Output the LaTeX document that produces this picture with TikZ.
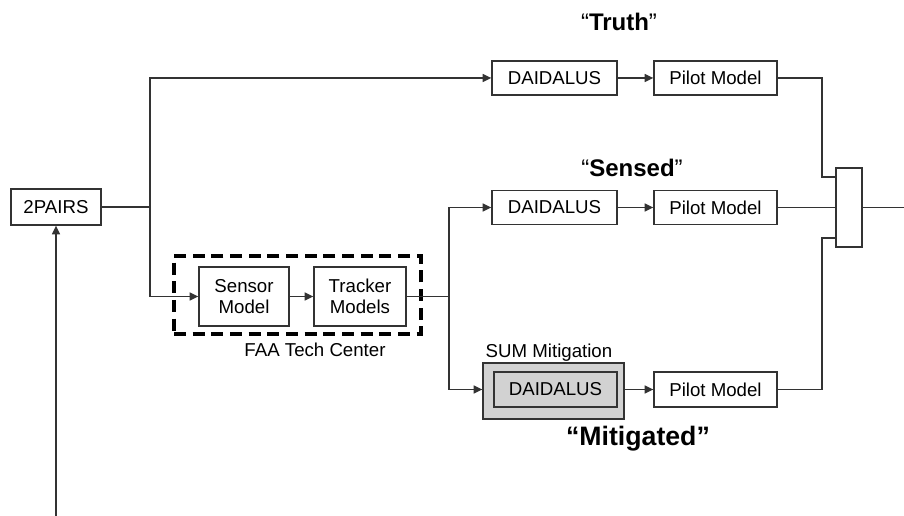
\documentclass[tikz,border=0pt]{standalone}
\usepackage{fontspec}
\setmainfont{Liberation Sans}
\usetikzlibrary{arrows.meta}
\definecolor{linec}{HTML}{333333}
\definecolor{boxgray}{HTML}{D2D2D2}
\begin{document}
\begin{tikzpicture}[x=0.75pt,y=-0.75pt,
  box/.style={draw=linec, line width=1pt, fill=white, inner sep=0pt, font=\fontsize{14}{16}\selectfont, align=center},
  conn/.style={draw=linec, line width=1pt},
  arr/.style={conn, -{Triangle[length=6.5pt,width=6pt]}},
  lbl/.style={font=\fontsize{14}{16}\selectfont, inner sep=0pt, anchor=base},
  big/.style={font=\fontsize{18}{20}\selectfont, inner sep=0pt, anchor=base}]
\useasboundingbox (0,0) rectangle (904,516);

% dashed enclosure
\node[draw=black, line width=2.4pt, dash pattern=on 9pt off 5pt, minimum width=185.25pt, minimum height=58.5pt, inner sep=0pt] (fac) at (297.5,295) {};
\node[lbl] (faalbl) at (315,357) {FAA Tech Center};

\node[box, minimum width=67.5pt, minimum height=27pt] (pairs) at (56,207) {2PAIRS};
\node[box, minimum width=67.5pt, minimum height=44.25pt] (sensor) at (244,296.5) {Sensor\\Model};
\node[box, minimum width=69pt, minimum height=44.25pt] (tracker) at (360,296.5) {Tracker\\Models};

\node[box, minimum width=93.75pt, minimum height=25.5pt] (td) at (554.5,78) {DAIDALUS};
\node[box, minimum width=92.25pt, minimum height=25.5pt] (tp) at (715.5,78) {Pilot Model};
\node[box, minimum width=93.75pt, minimum height=25.5pt] (sd) at (554.5,207.5) {DAIDALUS};
\node[box, minimum width=92.25pt, minimum height=25.5pt] (sp) at (715.5,207.5) {Pilot Model};

\node[box, fill=boxgray, minimum width=105.75pt, minimum height=42pt] (mo) at (553.5,391) {};
\node[box, fill=boxgray, minimum width=92.25pt, minimum height=26.25pt] (md) at (555.5,389.5) {DAIDALUS};
\node[box, minimum width=92.25pt, minimum height=26.25pt] (mp) at (715.5,389.5) {Pilot Model};
\node[lbl] (sumlbl) at (549,358) {SUM Mitigation};

\node[box, minimum width=19.5pt, minimum height=59.25pt] (comb) at (849,207.5) {};

\node[big] (truth) at (619,31) {``\textbf{Truth}''};
\node[big] (sensed) at (632,177) {``\textbf{Sensed}''};
\node[big, font=\fontsize{20}{22}\selectfont\bfseries] (mitig) at (638,446) {``Mitigated''};

% connectors
\coordinate (src) at (56,516);
\coordinate (j1) at (150,207);
\coordinate (j2) at (449,296.5);
\coordinate (k1) at (822,177);
\coordinate (k2) at (822,238);
\coordinate (out) at (904,207.5);

\draw[arr] (src) -- (pairs.south);
\draw[conn] (pairs.east) -- (j1);
\draw[arr] (j1) |- (td.west);
\draw[arr] (j1) |- (sensor.west);
\draw[arr] (sensor) -- (tracker);
\draw[conn] (tracker.east) -- (j2);
\draw[arr] (j2) |- (sd.west);
\draw[arr] (j2) |- (mo.west |- md.west);
\draw[arr] (td) -- (tp);
\draw[arr] (sd) -- (sp);
\draw[arr] (mo.east |- md.east) -- (mp.west);
\draw[conn] (tp.east) -| (k1) -- (comb.west |- k1);
\draw[conn] (sp.east) -- (comb.west);
\draw[conn] (mp.east) -| (k2) -- (comb.west |- k2);
\draw[conn] (comb.east) -- (out);
\end{tikzpicture}
\end{document}
